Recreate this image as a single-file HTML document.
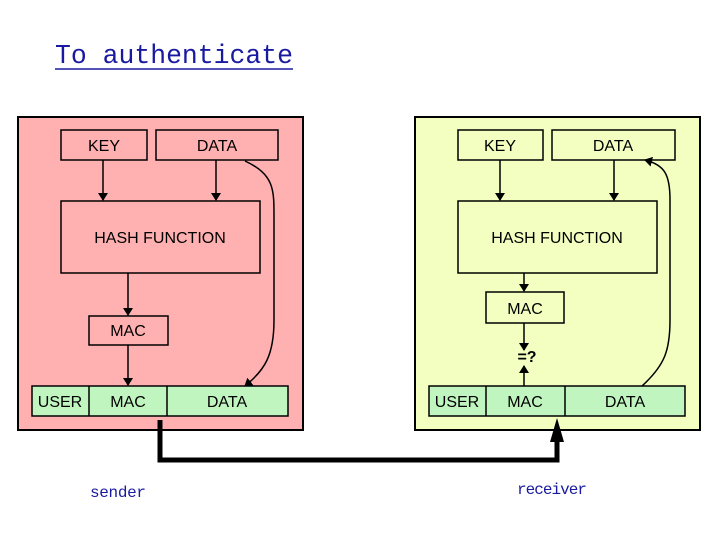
<!DOCTYPE html>
<html><head><style>
body{margin:0;width:720px;height:540px;background:#fff;overflow:hidden}
</style></head><body>
<svg width="720" height="540" xmlns="http://www.w3.org/2000/svg" font-family="Liberation Sans, sans-serif">
<defs><marker id="a" markerWidth="8" markerHeight="10" refX="7" refY="5" orient="auto" markerUnits="userSpaceOnUse"><path d="M0,0 L8,5 L0,10z" fill="#000"/></marker></defs>
<text x="55" y="63" font-family="Liberation Mono, monospace" font-size="27" fill="#1a1aa0" textLength="238" lengthAdjust="spacingAndGlyphs">To authenticate</text>
<line x1="55" y1="69" x2="293" y2="69" stroke="#1a1aa0" stroke-width="1.5"/>
<g stroke="#000" stroke-width="2">
<rect x="18" y="117" width="285" height="313" fill="#ffb0b0"/>
<rect x="415" y="117" width="285" height="313" fill="#f2ffc0"/>
</g>
<g stroke="#000" stroke-width="1.5" fill="none">
<rect x="61" y="130" width="86" height="30"/><rect x="156" y="130" width="122" height="30"/>
<rect x="61" y="201" width="199" height="72"/><rect x="89" y="316" width="79" height="29"/>
<rect x="458" y="130" width="85" height="30"/><rect x="552" y="130" width="123" height="30"/>
<rect x="458" y="201" width="199" height="72"/><rect x="486" y="292" width="78" height="31"/>
</g>
<g stroke="#000" stroke-width="1.5" fill="#c0f5c0">
<rect x="32" y="386" width="256" height="30"/><line x1="89" y1="386" x2="89" y2="416"/><line x1="167" y1="386" x2="167" y2="416"/>
<rect x="429" y="386" width="256" height="30"/><line x1="486" y1="386" x2="486" y2="416"/><line x1="565" y1="386" x2="565" y2="416"/>
</g>
<g font-size="16" text-anchor="middle">
<text x="104" y="151">KEY</text><text x="217" y="151">DATA</text>
<text x="160" y="243">HASH FUNCTION</text><text x="128" y="336">MAC</text>
<text x="60" y="407">USER</text><text x="128" y="407">MAC</text><text x="227" y="407">DATA</text>
<text x="500" y="151">KEY</text><text x="613" y="151">DATA</text>
<text x="557" y="243">HASH FUNCTION</text><text x="525" y="314">MAC</text>
<text x="457" y="407">USER</text><text x="525" y="407">MAC</text><text x="625" y="407">DATA</text>
<text x="527" y="362" font-weight="bold">=?</text>
</g>
<g stroke="#000" stroke-width="1.5" fill="none" marker-end="url(#a)">
<line x1="103" y1="160" x2="103" y2="200"/><line x1="216" y1="160" x2="216" y2="200"/>
<line x1="128" y1="273" x2="128" y2="315"/><line x1="128" y1="345" x2="128" y2="385"/>
<path d="M245,161 C275,175 274,190 274,220 L274,320 C274,355 265,370 245,386"/>
<line x1="500" y1="160" x2="500" y2="200"/><line x1="614" y1="160" x2="614" y2="200"/>
<line x1="524" y1="273" x2="524" y2="291"/><line x1="524" y1="323" x2="524" y2="350"/>
<line x1="524" y1="386" x2="524" y2="366"/>
<path d="M642,386 C665,365 670,350 670,320 L670,200 C670,175 665,165 645,160"/>
</g>
<path d="M160,420 L160,460 L557,460 L557,440" stroke="#000" stroke-width="5" fill="none"/>
<path d="M550,442 L557,418 L564,442z" fill="#000"/>
<text x="90" y="497" font-family="Liberation Mono, monospace" font-size="16" fill="#1a1aa0" textLength="56">sender</text>
<text x="517" y="494" font-family="Liberation Mono, monospace" font-size="16" fill="#1a1aa0" textLength="70">receiver</text>
</svg>
</body></html>
